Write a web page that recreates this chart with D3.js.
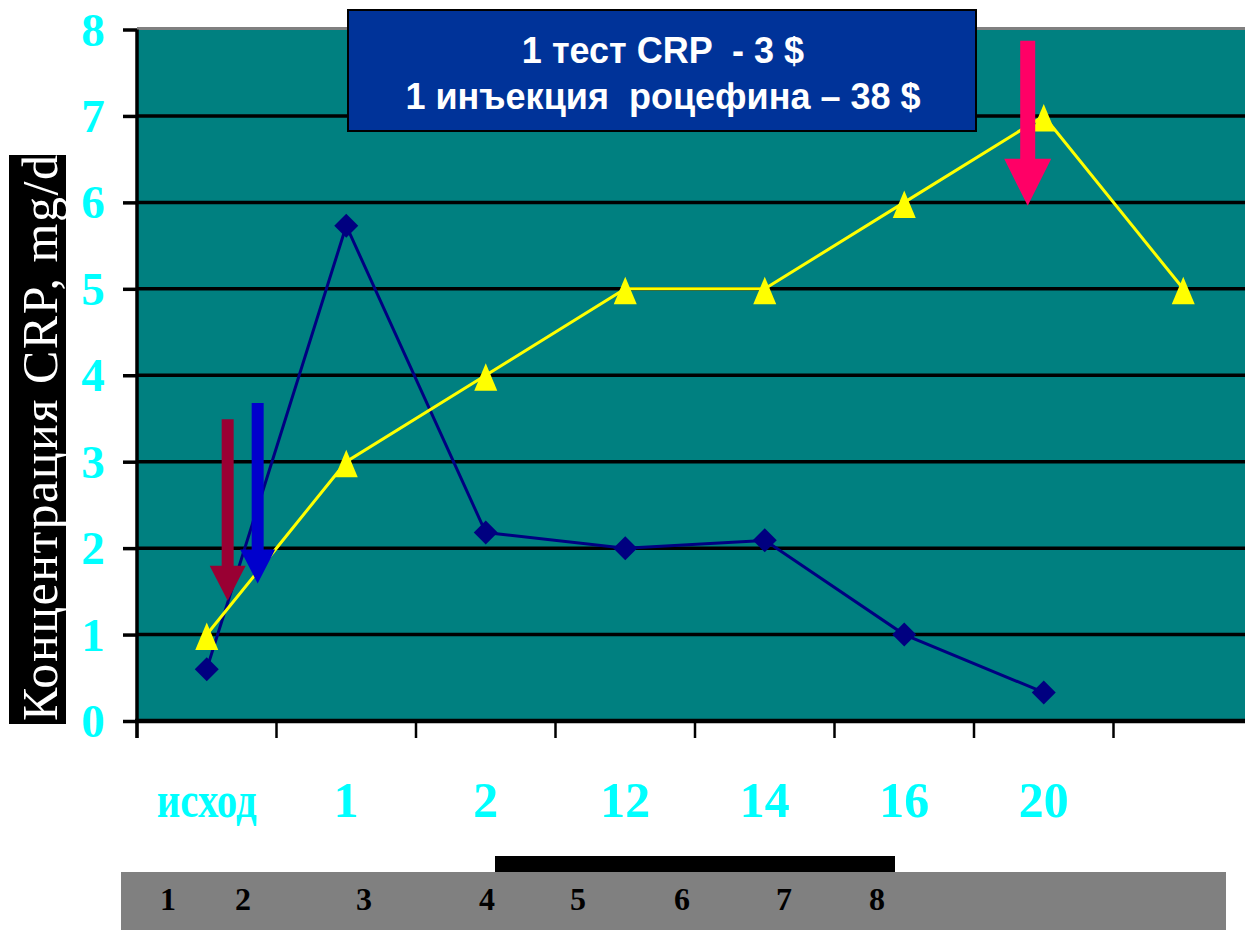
<!DOCTYPE html>
<html>
<head>
<meta charset="utf-8">
<script src="https://cdn.jsdelivr.net/npm/d3@7/dist/d3.min.js"></script>
<style>
  html, body { margin: 0; padding: 0; background: #ffffff; }
  svg { display: block; }
</style>
</head>
<body>
<script>
// ---- chart data ----
const categories = ["исход", "1", "2", "12", "14", "16", "20", ""];
const crpSeriesA = [0.6, 5.73, 2.18, 2.0, 2.09, 1.0, 0.33, null];   // navy diamonds
const crpSeriesB = [1, 3, 4, 5, 5, 6, 7, 5];                          // yellow triangles
const yTickValues = [0, 1, 2, 3, 4, 5, 6, 7, 8];
const titleLines = ["1 тест CRP  - 3 $", "1 инъекция  роцефина – 38 $"];
const yAxisTitle = "Концентрация CRP, mg/d";
const stripLabels = ["1", "2", "3", "4", "5", "6", "7", "8"];

// injection arrows: category, offset within the category step, start value, tip value
const arrowCategory = [0, 0, 6];
const arrowOffset = [0.15, 0.365, -0.115];
const arrowFrom = [3.49, 3.68, 7.87];
const arrowTo = [1.39, 1.59, 5.96];

// ---- layout ----
const W = 1245, H = 930;
const plot = { left: 137, right: 1253, top: 29.5, bottom: 721 };
const stripLabelX = [168, 243, 364, 487, 578, 682, 784, 877];
const arrowStyle = [
  { color: "#990033", shaft: 12, head: 36, headLen: 35 },
  { color: "#0000CC", shaft: 12, head: 35, headLen: 34 },
  { color: "#FF0066", shaft: 15, head: 47, headLen: 47 }
];
const serif = "'Liberation Serif', 'Times New Roman', serif";
const sans = "'Liberation Sans', Arial, sans-serif";

const svg = d3.select("body").append("svg")
  .attr("width", W).attr("height", H)
  .attr("viewBox", `0 0 ${W} ${H}`);

const x = d3.scaleBand()
  .domain(d3.range(categories.length))
  .range([plot.left, plot.right])
  .paddingInner(0).paddingOuter(0);
const cx = i => x(i) + x.bandwidth() / 2;

const y = d3.scaleLinear().domain([0, 8]).range([plot.bottom, plot.top]);

// plot background
svg.append("rect")
  .attr("x", plot.left).attr("y", plot.top)
  .attr("width", plot.right - plot.left).attr("height", plot.bottom - plot.top)
  .attr("fill", "#008080");

// top border of the plot area
svg.append("line")
  .attr("x1", plot.left).attr("x2", plot.right)
  .attr("y1", plot.top - 1).attr("y2", plot.top - 1)
  .attr("stroke", "#808080").attr("stroke-width", 3);

// horizontal gridlines
svg.append("g")
  .selectAll("line")
  .data(yTickValues.filter(v => v > 0 && v < 8))
  .join("line")
  .attr("x1", plot.left).attr("x2", plot.right)
  .attr("y1", d => y(d)).attr("y2", d => y(d))
  .attr("stroke", "#000").attr("stroke-width", 3.5);

// y axis with outward ticks
const yAxis = svg.append("g")
  .attr("transform", `translate(${plot.left},0)`)
  .call(d3.axisLeft(y).tickValues(yTickValues).tickSize(14).tickFormat(""));
yAxis.select(".domain").attr("stroke", "#000").attr("stroke-width", 3.5)
  .attr("d", `M0,${plot.bottom + 17}V${plot.top}`);
yAxis.selectAll(".tick line").attr("stroke", "#000").attr("stroke-width", 3.5);

svg.append("g")
  .selectAll("text")
  .data(yTickValues)
  .join("text")
  .attr("x", 93)
  .attr("y", d => y(d) + 16)
  .attr("text-anchor", "middle")
  .attr("font-family", serif)
  .attr("font-weight", "bold")
  .attr("font-size", 47)
  .attr("fill", "#00FFFF")
  .text(d => d);

// x axis with ticks at category boundaries
const xAxis = svg.append("g")
  .attr("transform", `translate(0,${plot.bottom})`);
xAxis.append("line")
  .attr("x1", plot.left - 2).attr("x2", plot.right)
  .attr("y1", 0).attr("y2", 0)
  .attr("stroke", "#000").attr("stroke-width", 4.5);
xAxis.selectAll("line.tick")
  .data(d3.range(categories.length))
  .join("line")
  .attr("class", "tick")
  .attr("x1", d => x(d)).attr("x2", d => x(d))
  .attr("y1", 0).attr("y2", 17)
  .attr("stroke", "#000").attr("stroke-width", 2.5);

const maxLabelWidth = 100;
svg.append("g")
  .selectAll("text")
  .data(categories)
  .join("text")
  .attr("x", (d, i) => cx(i))
  .attr("y", 817)
  .attr("text-anchor", "middle")
  .attr("font-family", serif)
  .attr("font-weight", "bold")
  .attr("font-size", 50)
  .attr("fill", "#00FFFF")
  .text(d => d)
  .each(function () {
    const w = this.getComputedTextLength();
    if (w > maxLabelWidth) {
      d3.select(this).attr("textLength", maxLabelWidth).attr("lengthAdjust", "spacingAndGlyphs");
    }
  });

// series A: navy line with diamonds
const ptsA = crpSeriesA.map((v, i) => ({ i, v })).filter(d => d.v != null);
svg.append("path")
  .datum(ptsA)
  .attr("fill", "none")
  .attr("stroke", "#000080")
  .attr("stroke-width", 3)
  .attr("d", d3.line().x(d => cx(d.i)).y(d => y(d.v)));
const dm = 12;
svg.append("g")
  .selectAll("path")
  .data(ptsA)
  .join("path")
  .attr("transform", d => `translate(${cx(d.i)},${y(d.v)})`)
  .attr("d", `M0,${-dm}L${dm},0L0,${dm}L${-dm},0Z`)
  .attr("fill", "#000080");

// series B: yellow line with triangles
const ptsB = crpSeriesB.map((v, i) => ({ i, v })).filter(d => d.v != null);
svg.append("path")
  .datum(ptsB)
  .attr("fill", "none")
  .attr("stroke", "#FFFF00")
  .attr("stroke-width", 3)
  .attr("d", d3.line().x(d => cx(d.i)).y(d => y(d.v)));
svg.append("g")
  .selectAll("path")
  .data(ptsB)
  .join("path")
  .attr("transform", d => `translate(${cx(d.i)},${y(d.v)})`)
  .attr("d", "M0,-12L11.5,15.5L-11.5,15.5Z")
  .attr("fill", "#FFFF00");

// cost box
const box = svg.append("g");
box.append("rect")
  .attr("x", 348).attr("y", 10)
  .attr("width", 628).attr("height", 121)
  .attr("fill", "#003399")
  .attr("stroke", "#000").attr("stroke-width", 2);
box.selectAll("text")
  .data(titleLines)
  .join("text")
  .attr("x", 663)
  .attr("y", (d, i) => 63 + i * 46)
  .attr("text-anchor", "middle")
  .attr("font-family", sans)
  .attr("font-weight", "bold")
  .attr("font-size", 36)
  .attr("fill", "#ffffff")
  .style("white-space", "pre")
  .text(d => d);

// y axis title in a black box
const clip = svg.append("clipPath").attr("id", "ytitle-clip");
clip.append("rect").attr("x", 9).attr("y", 155).attr("width", 57).attr("height", 569);
svg.append("rect")
  .attr("x", 9).attr("y", 155).attr("width", 57).attr("height", 569)
  .attr("fill", "#000");
svg.append("g").attr("clip-path", "url(#ytitle-clip)")
  .append("text")
  .attr("transform", "translate(57,721) rotate(-90)")
  .attr("font-family", serif)
  .attr("font-size", 50)
  .attr("fill", "#ffffff")
  .attr("textLength", 566)
  .attr("lengthAdjust", "spacing")
  .text(yAxisTitle);

// bottom strip
svg.append("rect")
  .attr("x", 121).attr("y", 872).attr("width", 1105).attr("height", 58)
  .attr("fill", "#808080");
svg.append("rect")
  .attr("x", 495).attr("y", 856).attr("width", 400).attr("height", 16)
  .attr("fill", "#000");
svg.append("g")
  .selectAll("text")
  .data(stripLabels)
  .join("text")
  .attr("x", (d, i) => stripLabelX[i])
  .attr("y", 910)
  .attr("text-anchor", "middle")
  .attr("font-family", serif)
  .attr("font-weight", "bold")
  .attr("font-size", 32)
  .attr("fill", "#000")
  .text(d => d);

// injection arrows
svg.append("g")
  .selectAll("path")
  .data(arrowCategory.map((c, k) => ({ c, k })))
  .join("path")
  .attr("fill", d => arrowStyle[d.k].color)
  .attr("d", d => {
    const s = arrowStyle[d.k];
    const ax = cx(d.c) + arrowOffset[d.k] * x.step();
    const y0 = y(arrowFrom[d.k]), yt = y(arrowTo[d.k]);
    const yb = yt - s.headLen;
    return `M${ax - s.shaft / 2},${y0}L${ax + s.shaft / 2},${y0}L${ax + s.shaft / 2},${yb}` +
      `L${ax + s.head / 2},${yb}L${ax},${yt}L${ax - s.head / 2},${yb}L${ax - s.shaft / 2},${yb}Z`;
  });
</script>
</body>
</html>
